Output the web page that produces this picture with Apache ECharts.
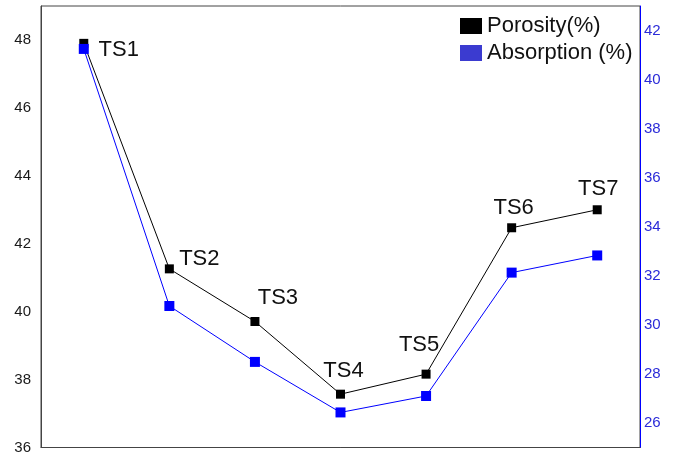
<!DOCTYPE html>
<html>
<head>
<meta charset="utf-8">
<script src="https://cdn.jsdelivr.net/npm/echarts@6/dist/echarts.min.js"></script>
<style>html,body{margin:0;padding:0;background:#fff;}#c{width:677px;height:455px;}</style>
</head>
<body>
<div id="c"></div>
<script>
const categories = ['TS1', 'TS2', 'TS3', 'TS4', 'TS5', 'TS6', 'TS7'];
const porosity = [47.9, 41.26, 39.71, 37.57, 38.16, 42.47, 43.0];
const absorption = [41.25, 30.77, 28.49, 26.43, 27.1, 32.13, 32.83];
const leftTicks = [36, 38, 40, 42, 44, 46, 48];
const rightTicks = [26, 28, 30, 32, 34, 36, 38, 40, 42];
const labelOffsets = [[35, 7], [30, -10], [23, -24], [3, -23], [-7, -29], [2, -20], [1, -21]];

const font = 'Liberation Sans, Arial, sans-serif';
const chart = echarts.init(document.getElementById('c'), null, {renderer: 'canvas'});
chart.setOption({
  animation: false,
  backgroundColor: '#fff',
  grid: {left: 41, right: 37, top: 6, bottom: 6, show: true, borderColor: '#444', borderWidth: 1},
  legend: {
    orient: 'vertical', left: 455, top: 10, itemGap: 5,
    itemWidth: 22, itemHeight: 16,
    textStyle: {fontFamily: font, fontSize: 22, color: '#111'},
    data: [
      {name: 'Porosity(%)', icon: 'rect', itemStyle: {color: '#000'}},
      {name: 'Absorption (%)', icon: 'rect', itemStyle: {color: '#3b3bd0'}}
    ]
  },
  xAxis: {
    type: 'category', data: categories, boundaryGap: true,
    axisLine: {show: true, lineStyle: {color: '#444', width: 1}},
    axisTick: {show: false}, axisLabel: {show: false}, splitLine: {show: false}
  },
  yAxis: [
    {
      type: 'value', min: 36, max: 49, interval: 1, position: 'left',
      axisLine: {show: true, lineStyle: {color: '#444'}},
      axisTick: {show: false}, splitLine: {show: false},
      axisLabel: {
        margin: 10, fontFamily: font, fontSize: 15, color: '#1a1a1a',
        formatter: v => leftTicks.includes(v) ? String(v) : ''
      }
    },
    {
      type: 'value', min: 25, max: 43, interval: 1, position: 'right',
      axisLine: {show: true, lineStyle: {color: '#0000ff', width: 1}},
      axisTick: {show: false}, splitLine: {show: false},
      axisLabel: {
        margin: 4, fontFamily: font, fontSize: 15, color: '#2b2bd8',
        formatter: v => rightTicks.includes(v) ? String(v) : ''
      }
    }
  ],
  series: [
    {
      name: 'Porosity(%)', type: 'line', yAxisIndex: 0,
      symbol: 'rect', symbolSize: 9,
      lineStyle: {color: '#000', width: 1},
      itemStyle: {color: '#000'},
      data: porosity.map((v, i) => ({
        value: v,
        label: {
          show: true, position: 'inside', align: 'center', verticalAlign: 'middle',
          offset: labelOffsets[i], formatter: categories[i],
          fontFamily: font, fontSize: 22, color: '#111'
        }
      })),
      z: 2
    },
    {
      name: 'Absorption (%)', type: 'line', yAxisIndex: 1,
      symbol: 'rect', symbolSize: 10,
      lineStyle: {color: '#0000ff', width: 1},
      itemStyle: {color: '#0000ff'},
      data: absorption,
      z: 3
    }
  ]
});
</script>
</body>
</html>
